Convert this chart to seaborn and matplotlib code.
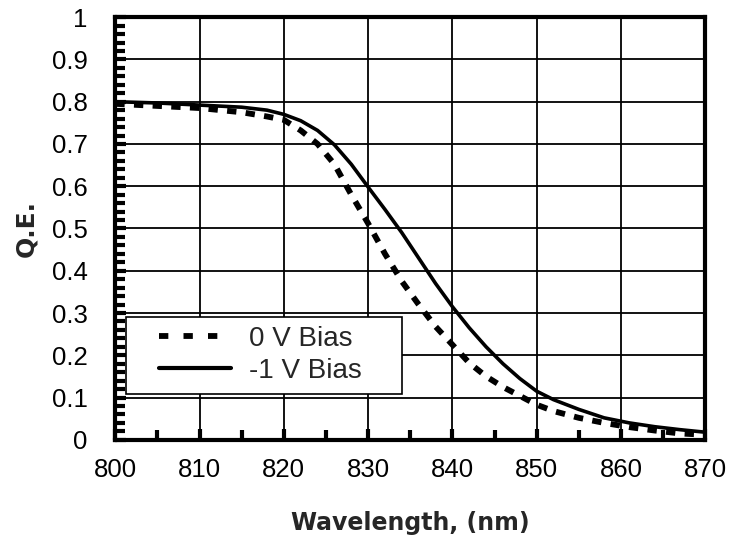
import numpy as np
import pandas as pd
import matplotlib
matplotlib.use('Agg')
import matplotlib.pyplot as plt
import seaborn as sns
from matplotlib.ticker import MultipleLocator, FuncFormatter
from matplotlib.lines import Line2D
from matplotlib.patches import Rectangle

wavelength = [800, 805, 810, 815, 818, 820, 822, 824, 826, 828, 830, 832, 834,
              836, 838, 840, 842, 844, 846, 848, 850, 852, 855, 858, 861, 864,
              867, 870]
qe_0v = [0.795, 0.79, 0.785, 0.775, 0.765, 0.757, 0.732, 0.70, 0.652, 0.58,
         0.512, 0.44, 0.375, 0.32, 0.268, 0.225, 0.182, 0.15, 0.125, 0.104,
         0.083, 0.068, 0.052, 0.04, 0.03, 0.022, 0.015, 0.012]
qe_1v = [0.80, 0.797, 0.792, 0.787, 0.78, 0.77, 0.755, 0.732, 0.698, 0.652,
         0.598, 0.545, 0.49, 0.43, 0.37, 0.315, 0.265, 0.22, 0.18, 0.145,
         0.115, 0.095, 0.072, 0.052, 0.04, 0.031, 0.024, 0.018]
series_names = ['0 V Bias', '-1 V Bias']

df = pd.DataFrame({
    'wl': wavelength * 2,
    'qe': qe_0v + qe_1v,
    'bias': [series_names[0]] * len(wavelength) + [series_names[1]] * len(wavelength),
})

sns.set_style('white')
plt.rcParams['font.family'] = ['Liberation Sans', 'DejaVu Sans']

fig = plt.figure(figsize=(7.3, 5.37), dpi=100)
ax = fig.add_axes([0.158, 0.181, 0.808, 0.787])

sns.lineplot(data=df, x='wl', y='qe', hue='bias', style='bias',
             palette=['black', 'black'],
             dashes={series_names[0]: (1.6, 1.6), series_names[1]: ''},
             size='bias', sizes={series_names[0]: 4.2, series_names[1]: 2.6},
             ax=ax, legend=False, zorder=3)

ax.set_xlim(800, 870)
ax.set_ylim(0, 1)
ax.xaxis.set_major_locator(MultipleLocator(10))
ax.xaxis.set_minor_locator(MultipleLocator(5))
ax.yaxis.set_major_locator(MultipleLocator(0.1))
ax.yaxis.set_minor_locator(MultipleLocator(0.02))


def fmt_y(v, pos):
    if abs(v) < 1e-9:
        return '0'
    if abs(v - 1) < 1e-9:
        return '1'
    return f'{v:.1f}'


ax.yaxis.set_major_formatter(FuncFormatter(fmt_y))

ax.grid(True, which='major', color='black', linewidth=1.3)
for s in ax.spines.values():
    s.set_color('black')
    s.set_linewidth(3)

ax.tick_params(axis='both', which='major', direction='in', length=8, width=3,
               labelsize=18.5, colors='black')
ax.tick_params(axis='x', which='major', pad=13)
ax.tick_params(axis='y', which='major', pad=20)
ax.tick_params(axis='both', which='minor', direction='in', length=7, width=3,
               colors='black')
ax.tick_params(left=True, bottom=True, right=False, top=False)
ax.tick_params(which='minor', left=True, bottom=True, right=False, top=False)

ax.set_xlabel('Wavelength, (nm)', fontsize=17, fontweight='bold',
              family='DejaVu Sans', labelpad=21)
ax.set_ylabel('Q.E.', fontsize=18, fontweight='bold', family='DejaVu Sans',
              labelpad=10)

# 범례 프레임
frame = Rectangle((0.0186, 0.109), 0.467, 0.182, transform=ax.transAxes,
                  facecolor='white', edgecolor='black', linewidth=1.2,
                  zorder=4)
ax.add_patch(frame)

handles = [Line2D([], [], color='black', lw=4.2, dashes=(1.6, 2.6)),
           Line2D([], [], color='black', lw=3)]
leg = ax.legend(handles, series_names, loc='center left',
                bbox_to_anchor=(0.074, 0.201), fontsize=20, frameon=False,
                handlelength=2.6, handletextpad=0.65, borderpad=0,
                labelspacing=0.22, borderaxespad=0)
leg.set_zorder(5)

fig.savefig('out.png', dpi=100)
